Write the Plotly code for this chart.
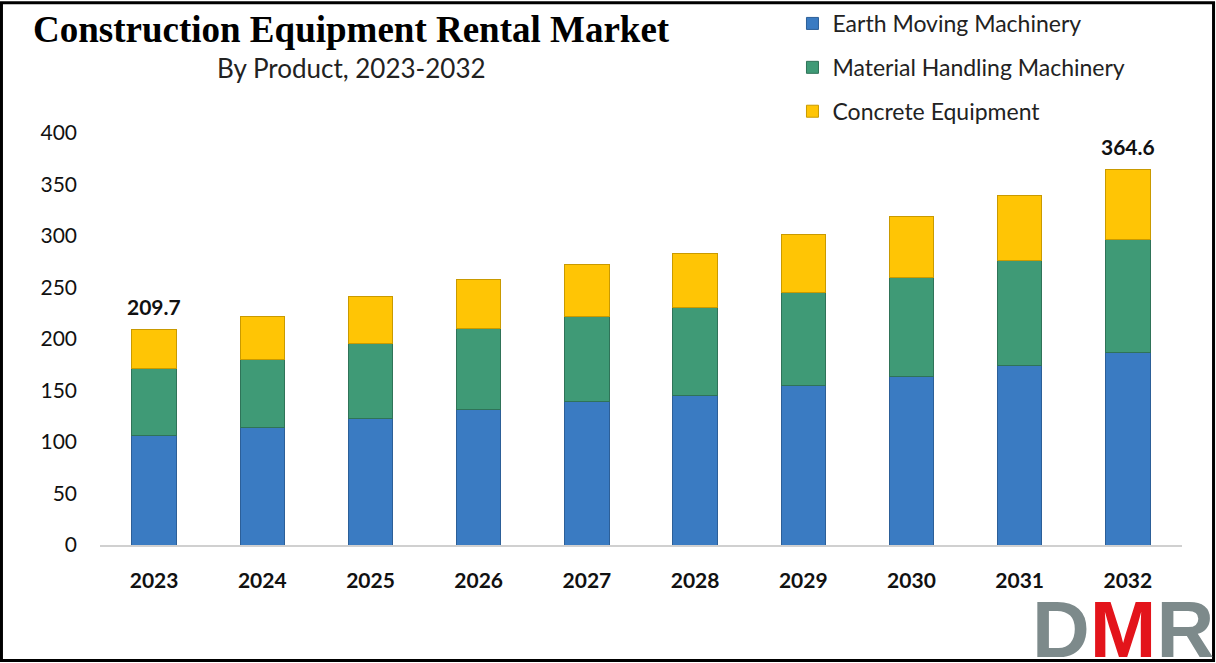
import plotly.graph_objects as go

years = ["2023", "2024", "2025", "2026", "2027", "2028", "2029", "2030", "2031", "2032"]
earth_moving = [106.8, 113.9, 123.3, 131.1, 139.1, 145.6, 155.3, 163.4, 173.8, 187.1]
material_handling = [64.1, 66.4, 72.8, 79.3, 82.6, 84.8, 90.3, 96.1, 102.2, 109.7]
concrete = [38.8, 42.0, 44.7, 47.6, 51.1, 52.8, 56.1, 59.9, 63.8, 67.8]
y_ticks = [0, 50, 100, 150, 200, 250, 300, 350, 400]

series = [
    ("Earth Moving Machinery", earth_moving, "#3A7BC2", "#2C5F98"),
    ("Material Handling Machinery", material_handling, "#3F9A76", "#2F7358"),
    ("Concrete Equipment", concrete, "#FFC505", "#C99A00"),
]

fig = go.Figure()
for name, vals, col, edge in series:
    fig.add_trace(go.Bar(
        x=years, y=vals, name=name, legendgroup=name,
        marker=dict(color=col, line=dict(color=edge, width=1)),
    ))

totals = [round(a + b + c, 1) for a, b, c in zip(earth_moving, material_handling, concrete)]
# category index used for x, a "2023" string would be read as a position
for i in (0, len(years) - 1):
    fig.add_annotation(x=i, y=totals[i], text="<b>%.1f</b>" % totals[i],
                       showarrow=False, yanchor="bottom", yshift=8,
                       font=dict(family="Lato", size=21, color="#111"))

# paper spans x 100..1216 px (right margin 0 so the legend gets no auto pad),
# the x axis domain keeps the plot at 100..1182 px
# titles
fig.add_annotation(x=0.2258, y=1.252, xref="paper", yref="paper", xanchor="center", yanchor="middle",
                   text="<b>Construction Equipment Rental Market</b>", showarrow=False,
                   font=dict(family="Liberation Serif", size=37, color="black"))
fig.add_annotation(x=0.2258, y=1.158, xref="paper", yref="paper", xanchor="center", yanchor="middle",
                   text="By Product, 2023-2032", showarrow=False,
                   font=dict(family="Lato", size=26, color="#222"))

# DMR logo
fig.add_annotation(x=0.9167, y=-0.318, xref="paper", yref="paper", xanchor="center", yanchor="bottom",
                   text="<b><span style='color:#7D8A8B'>D</span><span style='color:#E3141B'>M</span>"
                        "<span style='color:#7D8A8B'>R</span></b>",
                   showarrow=False, font=dict(family="Liberation Sans", size=80))

# outer border
fig.add_shape(type="rect", xref="paper", yref="paper",
              x0=-0.0883, x1=0.9978, y0=-0.2805, y1=1.316,
              line=dict(color="black", width=3), fillcolor="rgba(0,0,0,0)")

fig.update_layout(
    barmode="stack",
    bargap=0.59,
    width=1216, height=663,
    margin=dict(l=100, r=0, t=133, b=118),
    paper_bgcolor="white", plot_bgcolor="white",
    showlegend=True,
    legend=dict(x=0.6205, y=1.318, xanchor="left", yanchor="top",
                traceorder="grouped", tracegroupgap=11,
                font=dict(family="Lato", size=23, color="#222"),
                bgcolor="rgba(0,0,0,0)"),
    xaxis=dict(type="category", domain=[0, 0.9695],
               showline=True, linecolor="#D0D0D0", linewidth=1.5, showgrid=False,
               ticks="", ticklabelstandoff=16,
               tickfont=dict(family="Lato", size=21, color="#111", weight="bold")),
    yaxis=dict(range=[0, 400], tickvals=y_ticks, showgrid=False, zeroline=False,
               showline=False, ticks="", ticklabelstandoff=22,
               tickfont=dict(family="Lato", size=21, color="#111")),
)

fig.write_html("out.html", config={"displayModeBar": False},
               post_script="document.body.style.margin='0';")
